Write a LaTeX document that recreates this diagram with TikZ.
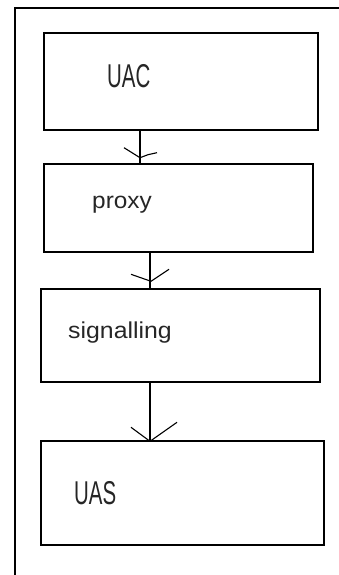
\documentclass[tikz,border=0pt]{standalone}
\usepackage{fontspec}
\setmainfont{Liberation Sans}
\usepackage{graphicx}
\usetikzlibrary{calc}
\begin{document}
\begin{tikzpicture}[x=1pt,y=-1pt,
  box/.style={draw=black,line width=1.4pt,rectangle,inner sep=0pt},
  lbl/.style={inner sep=0pt,anchor=base west,text=black!85},
  capsl/.style={lbl,font=\fontsize{33}{33}\selectfont},
  lowl/.style={lbl,font=\fontsize{23}{23}\selectfont},
  conn/.style={line width=1.4pt},
  head/.style={line width=1.1pt}]
\useasboundingbox (0,0) rectangle (339,575);
% frame
\draw[line width=1.4pt] (15,575) -- (15,8) -- (339,8);
% boxes
\node[box,minimum width=274pt,minimum height=97pt] (uac) at (181,81.5) {};
\node[box,minimum width=269pt,minimum height=88pt] (proxy) at (178.5,208) {};
\node[box,minimum width=279pt,minimum height=93pt] (sig) at (180.5,335.5) {};
\node[box,minimum width=283pt,minimum height=104pt] (uas) at (182.5,493) {};
% labels
\node[capsl] (uact) at (107,88) {\scalebox{0.62}[1]{UAC}};
\node[lowl] (proxyt) at (92,208) {\scalebox{1.06}[1]{proxy}};
\node[lowl] (sigt) at (68,338) {\scalebox{1.08}[1]{signalling}};
\node[capsl] (uast) at (74,504) {\scalebox{0.62}[1]{UAS}};
% connectors
\coordinate (x1) at (140,0);
\coordinate (x2) at (150,0);
\draw[conn] (uac.south -| x1) -- (proxy.north -| x1);
\draw[conn] (proxy.south -| x2) -- (sig.north -| x2);
\draw[conn] (sig.south -| x2) -- (uas.north -| x2);
% hand-drawn arrowheads
\draw[head] ($(uac.south -| x1)+(-16,17)$) -- ($(uac.south -| x1)+(0,27)$) -- ($(uac.south -| x1)+(8,24)$) -- ($(uac.south -| x1)+(17,22)$);
\draw[head] ($(sig.north -| x2)+(-19,-14)$) -- ($(sig.north -| x2)+(1,-7)$) -- ($(sig.north -| x2)+(19,-19)$);
\draw[head] ($(uas.north -| x2)+(-19,-13)$) -- ($(uas.north -| x2)+(0,1)$) -- ($(uas.north -| x2)+(27,-18)$);
\end{tikzpicture}
\end{document}
